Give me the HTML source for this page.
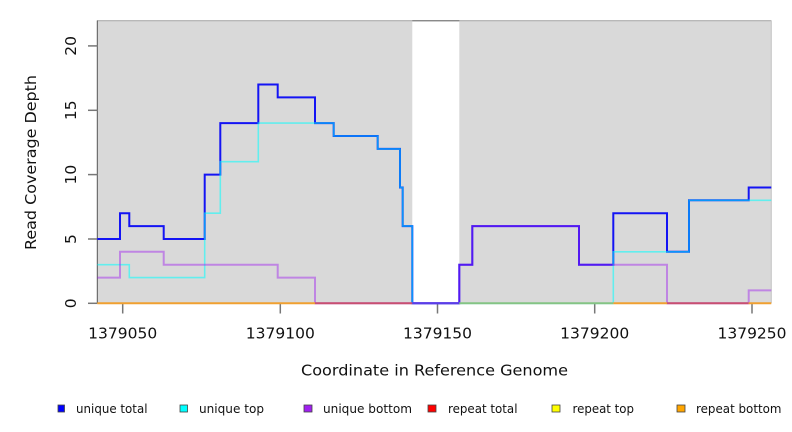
<!DOCTYPE html>
<html>
<head>
<meta charset="utf-8">
<style>
  html, body { margin:0; padding:0; background:#ffffff; }
  svg { display:block; }
  text { font-family: "DejaVu Sans", "Liberation Sans", sans-serif; fill:#111; }
</style>
</head>
<body>
<svg width="792" height="432" viewBox="0 0 792 432" xmlns="http://www.w3.org/2000/svg">
  <rect x="0" y="0" width="792" height="432" fill="#ffffff"/>
  <!-- plot background -->
  <rect x="97.3" y="20.5" width="674" height="282.8" fill="#d9d9d9"/>
  <!-- gap -->
  <rect x="412.3" y="21" width="47" height="282.3" fill="#ffffff"/>
  <!-- top border -->
  <line x1="97.3" y1="20.7" x2="771.3" y2="20.7" stroke="#b8b8b8" stroke-width="1.4"/>
  <line x1="412.3" y1="20.7" x2="459.3" y2="20.7" stroke="#8a8a8a" stroke-width="1.4"/>
  <!-- right border -->
  <line x1="771.3" y1="20.5" x2="771.3" y2="303.3" stroke="#c4c4c4" stroke-width="1"/>
  <!-- left axis -->
  <line x1="97.3" y1="20.5" x2="97.3" y2="303.3" stroke="#555" stroke-width="1"/>

  <!-- y ticks -->
  <g stroke="#777" stroke-width="1.5">
    <line x1="88" y1="303.3" x2="97.3" y2="303.3"/>
    <line x1="88" y1="239" x2="97.3" y2="239"/>
    <line x1="88" y1="174.6" x2="97.3" y2="174.6"/>
    <line x1="88" y1="110.3" x2="97.3" y2="110.3"/>
    <line x1="88" y1="45.9" x2="97.3" y2="45.9"/>
  </g>
  <!-- x ticks -->
  <g stroke="#777" stroke-width="1.5">
    <line x1="122.7" y1="304" x2="122.7" y2="313.5"/>
    <line x1="280.3" y1="304" x2="280.3" y2="313.5"/>
    <line x1="437.5" y1="304" x2="437.5" y2="313.5"/>
    <line x1="594.7" y1="304" x2="594.7" y2="313.5"/>
    <line x1="752" y1="304" x2="752" y2="313.5"/>
  </g>

  <!-- series: unique total -->
  <path d="M97.3,239 H120 V213.2 H129.3 V226.1 H163.7 V239 H204.7 V174.6 H220.3 V123.1 H258.3 V84.5 H277.7 V97.4 H315 V123.1 H333.7 V136 H377.7 V148.9 H400 V187.5 H402.7 V226.1 H412.3 V303.3 H459.3 V264.7 H472.3 V226.1 H579 V264.7 H613.3 V213.2 H667 V251.8 H689 V200.3 H748.7 V187.5 H771.3"
        fill="none" stroke="#1414f4" stroke-width="2"/>
  <!-- unique top -->
  <path d="M97.3,264.7 H129.3 V277.6 H204.7 V213.2 H220.3 V161.7 H258.3 V123.1 H333.7 V136 H377.7 V148.9 H400 V187.5 H402.7 V226.1 H412.3 V303.3 H613.3 V251.8 H689 V200.3 H771.3"
        fill="none" stroke="#00ffff" stroke-opacity="0.55" stroke-width="1.6"/>
  <!-- unique bottom -->
  <path d="M97.3,277.6 H120 V251.8 H163.7 V264.7 H277.7 V277.6 H315 V303.3 H459.3 V264.7 H472.3 V226.1 H579 V264.7 H667 V303.3 H748.7 V290.4 H771.3"
        fill="none" stroke="#a020f0" stroke-opacity="0.45" stroke-width="2"/>

  <!-- zero line (repeat series overlapping) -->
  <g stroke-width="2" fill="none">
    <line x1="97.3" y1="303.3" x2="315" y2="303.3" stroke="#f0a030"/>
    <line x1="315" y1="303.3" x2="412.3" y2="303.3" stroke="#c85070"/>
    <line x1="412.3" y1="303.3" x2="459.3" y2="303.3" stroke="#5a3ee6"/>
    <line x1="459.3" y1="303.3" x2="613.3" y2="303.3" stroke="#84c484"/>
    <line x1="613.3" y1="303.3" x2="667" y2="303.3" stroke="#f0a030"/>
    <line x1="667" y1="303.3" x2="748.7" y2="303.3" stroke="#c85070"/>
    <line x1="748.7" y1="303.3" x2="771.3" y2="303.3" stroke="#f0a030"/>
  </g>

  <!-- y tick labels -->
  <g font-size="15.5" text-anchor="middle">
    <text transform="translate(76,303.3) rotate(-90)">0</text>
    <text transform="translate(76,239) rotate(-90)">5</text>
    <text transform="translate(76,174.6) rotate(-90)">10</text>
    <text transform="translate(76,110.3) rotate(-90)">15</text>
    <text transform="translate(76,45.9) rotate(-90)">20</text>
  </g>
  <!-- x tick labels -->
  <g font-size="15.5" text-anchor="middle">
    <text x="122.7" y="338.7">1379050</text>
    <text x="280.3" y="338.7">1379100</text>
    <text x="437.5" y="338.7">1379150</text>
    <text x="594.7" y="338.7">1379200</text>
    <text x="752" y="338.7">1379250</text>
  </g>

  <!-- axis titles -->
  <text x="434.5" y="375.5" font-size="15.5" text-anchor="middle" textLength="267" lengthAdjust="spacingAndGlyphs">Coordinate in Reference Genome</text>
  <text transform="translate(36,162.5) rotate(-90)" font-size="15.5" text-anchor="middle" textLength="175" lengthAdjust="spacingAndGlyphs">Read Coverage Depth</text>

  <!-- legend -->
  <g stroke="#444" stroke-width="0.8">
    <rect x="58" y="405" width="6.5" height="7" fill="#0000ff"/>
    <rect x="180" y="405" width="7.5" height="7" fill="#00ffff"/>
    <rect x="304" y="405" width="8" height="7" fill="#a020f0"/>
    <rect x="428" y="405" width="8" height="7" fill="#ff0000"/>
    <rect x="552" y="405" width="8" height="7" fill="#ffff00"/>
    <rect x="677" y="405" width="8" height="7" fill="#ffa500"/>
  </g>
  <g font-size="12">
    <text x="76" y="413" textLength="71.5" lengthAdjust="spacingAndGlyphs">unique total</text>
    <text x="199" y="413" textLength="65" lengthAdjust="spacingAndGlyphs">unique top</text>
    <text x="323" y="413" textLength="89" lengthAdjust="spacingAndGlyphs">unique bottom</text>
    <text x="448" y="413" textLength="69.5" lengthAdjust="spacingAndGlyphs">repeat total</text>
    <text x="572.5" y="413" textLength="61.5" lengthAdjust="spacingAndGlyphs">repeat top</text>
    <text x="696" y="413" textLength="85.5" lengthAdjust="spacingAndGlyphs">repeat bottom</text>
  </g>
</svg>
</body>
</html>
